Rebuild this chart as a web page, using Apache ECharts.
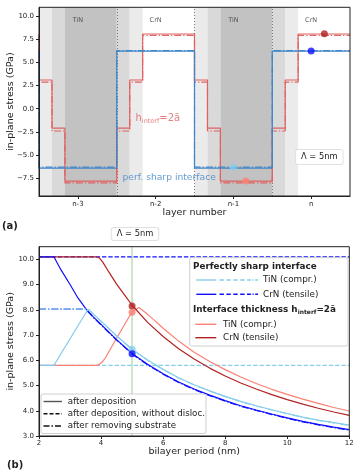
<!DOCTYPE html>
<html>
<head>
  <meta charset="utf-8">
  <title>In-plane stress in TiN/CrN superlattice</title>
  <script src="https://cdn.jsdelivr.net/npm/echarts@6/dist/echarts.min.js"></script>
  <style>
    html, body { margin: 0; padding: 0; background: #fff; }
    #graph { width: 359px; height: 470px; }
  </style>
</head>
<body>
  <div id="graph"></div>

  <script>
    var FONT = 'DejaVu Sans';

    // ---------- panel (a): stress across the layers ----------
    var layerTicks = [0, 1, 2, 3];
    var layerNames = ['n-3', 'n-2', 'n-1', 'n'];
    var materialNames = ['TiN', 'CrN', 'TiN', 'CrN'];
    var stressTicksA = [-7.5, -5, -2.5, 0, 2.5, 5, 7.5, 10];

    // monolayer slabs (layer units) and how much TiN each one holds (0..3)
    var slabEdges = [-0.5, -0.333, -0.167, 0.5, 0.667, 0.833, 1.5, 1.667, 1.833, 2.5, 2.667, 2.833, 3.5];
    var slabShade = [1, 2, 3, 2, 1, 0, 1, 2, 3, 2, 1, 0];
    var interfaceEdges = [0.5, 1.5, 2.5];

    // interface thickness 2a
    var gradedDep = [3.1, -2.1, -7.8, -2.1, 3.1, 8.06, 3.1, -2.1, -7.8, -2.1, 3.1, 8.06];
    var gradedRem = [2.88, -2.4, -8.0, -2.4, 2.88, 7.92, 2.88, -2.4, -8.0, -2.4, 2.88, 7.92];
    // perfectly sharp interface, one value per layer
    var sharpEdges = [-0.5, 0.5, 1.5, 2.5, 3.5];
    var sharpDep = [-6.4, 6.22, -6.4, 6.22];
    var sharpRem = [-6.3, 6.27, -6.3, 6.27];

    // highlighted points (same states as the Λ = 5nm markers below)
    var dotAx = [3.17, 3.0, 2.0, 2.16];
    var dotAy = [8.1, 6.22, -6.32, -7.8];

    // ---------- panel (b): stress vs bilayer period ----------
    var periodTicks = [2, 4, 6, 8, 10, 12];
    var stressTicksB = [3, 4, 5, 6, 7, 8, 9, 10];
    var markedPeriod = 5;

    var crnSharpDep = [[2, 10.1], [2.48, 10.1], [2.7, 9.6], [3.0, 9.0], [3.25, 8.48], [3.5, 8.06], [3.75, 7.72],
      [4.0, 7.42], [4.5, 6.82], [5.0, 6.27], [5.5, 5.84], [6.0, 5.47], [6.5, 5.14], [7.0, 4.86], [7.5, 4.62],
      [8.0, 4.4], [8.5, 4.2], [9.0, 4.03], [9.5, 3.87], [10.0, 3.72], [10.5, 3.58], [11.0, 3.46], [11.5, 3.35], [12.0, 3.25]];
    var crnSharpRem = [[2, 8.03], [3.5, 8.03], [3.75, 7.7], [4.0, 7.4], [4.5, 6.8], [5.0, 6.25], [5.5, 5.82],
      [6.0, 5.45], [6.5, 5.12], [7.0, 4.84], [7.5, 4.6], [8.0, 4.38], [8.5, 4.18], [9.0, 4.01], [9.5, 3.85],
      [10.0, 3.7], [10.5, 3.56], [11.0, 3.44], [11.5, 3.33], [12.0, 3.23]];
    var crnSharpFree = [[2, 10.1], [12, 10.1]];

    var tinSharpDep = [[2, 5.8], [2.48, 5.8], [3.58, 8.02], [3.75, 7.84], [4.0, 7.55], [4.5, 6.97], [5.0, 6.44],
      [5.5, 6.01], [6.0, 5.64], [6.5, 5.31], [7.0, 5.03], [7.5, 4.79], [8.0, 4.57], [8.5, 4.37], [9.0, 4.2],
      [9.5, 4.04], [10.0, 3.89], [10.5, 3.75], [11.0, 3.63], [11.5, 3.53], [12.0, 3.43]];
    var tinSharpRem = [[2, 8.03], [3.58, 8.03], [3.75, 7.83], [4.0, 7.54], [4.5, 6.96], [5.0, 6.43], [5.5, 6.0],
      [6.0, 5.63], [6.5, 5.3], [7.0, 5.02], [7.5, 4.78], [8.0, 4.56], [8.5, 4.36], [9.0, 4.19], [9.5, 4.03],
      [10.0, 3.88], [10.5, 3.74], [11.0, 3.62], [11.5, 3.52], [12.0, 3.42]];
    var tinSharpFree = [[2, 5.8], [12, 5.8]];

    var tinGraded = [[2, 5.8], [3.85, 5.8], [3.95, 5.84], [4.05, 5.95], [4.15, 6.12], [4.5, 6.87], [4.75, 7.4],
      [5.0, 7.92], [5.22, 8.09], [5.5, 7.82], [5.75, 7.55], [6.0, 7.27], [6.5, 6.76], [7.0, 6.32], [7.5, 5.95],
      [8.0, 5.63], [8.5, 5.34], [9.0, 5.08], [9.5, 4.85], [10.0, 4.65], [10.5, 4.46], [11.0, 4.29], [11.5, 4.13], [12.0, 3.99]];
    var crnGraded = [[2, 10.1], [3.85, 10.1], [3.95, 10.05], [4.05, 9.9], [4.25, 9.5], [4.5, 9.02], [4.75, 8.6],
      [5.0, 8.18], [5.5, 7.5], [6.0, 6.94], [6.5, 6.46], [7.0, 6.05], [7.5, 5.69], [8.0, 5.38], [8.5, 5.1],
      [9.0, 4.86], [9.5, 4.64], [10.0, 4.44], [10.5, 4.26], [11.0, 4.1], [11.5, 3.95], [12.0, 3.82]];

    // stress at Λ = 5nm: CrN graded, TiN graded, TiN sharp, CrN sharp
    var dotsAt5 = [8.15, 7.9, 6.44, 6.26];

    // ---------- styles ----------
    var RED_A = '#e06262', BLUE_A = '#3f86c8';
    var SKY = '#87ceeb', BLUE = '#1010ff', SALMON = '#fa8072', FIREBRICK = '#b22222';
    var SHADES = [null, '#ebebeb', '#d9d9d9', '#c2c2c2'];
    var DOT_COLORS = [FIREBRICK, BLUE, SKY, SALMON];
    var DASH = [4.4, 1.9];
    var DASHDOT = [7, 2, 1.3, 2];

    var myChart = echarts.init(document.getElementById('graph'), null, { renderer: 'canvas' });

    function steps(edges, vals) {
      // periodic profile: starts with the vertical jump from the previous slab
      var pts = [[edges[0], vals[vals.length - 1]]];
      for (var i = 0; i < vals.length; i++) {
        pts.push([edges[i], vals[i]], [edges[i + 1], vals[i]]);
      }
      return pts;
    }

    function line(idx, data, color, type, z) {
      return {
        type: 'line', xAxisIndex: idx, yAxisIndex: idx, data: data,
        symbol: 'none', silent: true, z: z || 2,
        lineStyle: { color: color, width: 1.2, type: type || 'solid' }
      };
    }

    function fmtStress(v) {
      return (v < 0 ? '\u2212' : '') + Math.abs(v).toFixed(1);
    }

    // shaded slabs + dotted layer boundaries in (a)
    var bands = [];
    for (var i = 0; i < slabShade.length; i++) {
      if (!slabShade[i]) continue;
      bands.push([{ xAxis: slabEdges[i], itemStyle: { color: SHADES[slabShade[i]] } }, { xAxis: slabEdges[i + 1] }]);
    }

    var seriesA = [
      {
        type: 'line', xAxisIndex: 0, yAxisIndex: 0, data: [], silent: true,
        markArea: { silent: true, z: 1, data: bands },
        markLine: {
          silent: true, z: 1, symbol: ['none', 'none'], label: { show: false },
          lineStyle: { color: '#777', type: [1, 2], width: 1 },
          data: interfaceEdges.map(function (x) { return { xAxis: x }; })
        }
      },
      line(0, steps(slabEdges, gradedDep), RED_A),
      line(0, steps(slabEdges, gradedRem), RED_A, DASHDOT),
      line(0, steps(sharpEdges, sharpDep), BLUE_A),
      line(0, steps(sharpEdges, sharpRem), BLUE_A, DASHDOT),
      {
        type: 'scatter', xAxisIndex: 0, yAxisIndex: 0, symbolSize: 7, z: 4, silent: true,
        data: dotAx.map(function (x, k) { return { value: [x, dotAy[k]], itemStyle: { color: DOT_COLORS[k] } }; })
      },
      {
        // layer material names
        type: 'scatter', xAxisIndex: 0, yAxisIndex: 0, symbolSize: 1, silent: true, z: 4,
        itemStyle: { color: 'rgba(0,0,0,0)' },
        label: { show: true, position: 'inside', fontFamily: FONT, fontSize: 6.5, color: '#333',
          formatter: function (p) { return materialNames[p.dataIndex]; } },
        data: layerTicks.map(function (x) { return [x, 9.57]; })
      },
      {
        type: 'scatter', xAxisIndex: 0, yAxisIndex: 0, symbolSize: 1, silent: true, z: 4,
        itemStyle: { color: 'rgba(0,0,0,0)' },
        label: {
          show: true, position: 'right', distance: 0, fontFamily: FONT,
          formatter: function (p) { return p.dataIndex === 0 ? '{m|h}{s|interf}{m|=2\u0101}' : '{b|perf. sharp interface}'; },
          rich: {
            m: { fontFamily: FONT, fontSize: 10, color: RED_A, lineHeight: 13 },
            s: { fontFamily: FONT, fontSize: 6.5, color: RED_A, lineHeight: 7, verticalAlign: 'bottom' },
            b: { fontFamily: FONT, fontSize: 9.2, color: BLUE_A, lineHeight: 12 }
          }
        },
        data: [[0.735, -1.0], [0.567, -7.45]]
      }
    ];

    var seriesB = [
      {
        type: 'line', xAxisIndex: 1, yAxisIndex: 1, data: [], silent: true,
        markLine: {
          silent: true, z: 1, symbol: ['none', 'none'], label: { show: false },
          lineStyle: { color: '#b9e2b1', type: 'solid', width: 1.5 },
          data: [{ xAxis: markedPeriod }]
        }
      },
      line(1, tinSharpFree, SKY, DASH),
      line(1, crnSharpFree, BLUE, DASH),
      line(1, tinGraded, SALMON),
      line(1, crnGraded, FIREBRICK),
      line(1, crnSharpDep, BLUE),
      line(1, crnSharpRem, BLUE, DASHDOT),
      line(1, tinSharpDep, SKY),
      line(1, tinSharpRem, SKY, DASHDOT),
      {
        type: 'scatter', xAxisIndex: 1, yAxisIndex: 1, symbolSize: 7, z: 4, silent: true,
        data: dotsAt5.map(function (y, k) {
          return { value: [markedPeriod, y], itemStyle: { color: [FIREBRICK, SALMON, SKY, BLUE][k] } };
        })
      }
    ];

    // ---------- overlays: legends, annotation boxes, panel letters ----------
    function txt(x, y, text, size, opts) {
      opts = opts || {};
      return {
        type: 'text', z: 100, silent: true,
        style: {
          x: x, y: y, text: text, fontFamily: FONT, fontSize: size,
          fontWeight: opts.bold ? 'bold' : 'normal', fill: opts.color || '#222',
          align: opts.align || 'left', verticalAlign: 'middle', rich: opts.rich,
          backgroundColor: opts.bg, borderColor: opts.border, borderWidth: opts.border ? 1 : 0,
          borderRadius: opts.border ? 2 : 0, padding: opts.padding
        }
      };
    }
    function seg(x1, x2, y, color, dash) {
      return {
        type: 'line', z: 100, silent: true,
        shape: { x1: x1, y1: y, x2: x2, y2: y },
        style: { stroke: color, lineWidth: 1.4, lineDash: dash || null }
      };
    }
    function box(x, y, w, h) {
      return {
        type: 'rect', z: 99, silent: true,
        shape: { x: x, y: y, width: w, height: h, r: 2 },
        style: { fill: 'rgba(255,255,255,0.85)', stroke: '#d0d0d0', lineWidth: 1 }
      };
    }

    var boldRich = {
      b: { fontFamily: FONT, fontSize: 8.8, fontWeight: 'bold', color: '#111', lineHeight: 12 },
      s: { fontFamily: FONT, fontSize: 6, fontWeight: 'bold', color: '#111', lineHeight: 6, verticalAlign: 'bottom' }
    };

    var graphics = [
      txt(2, 226.5, '(a)', 10, { bold: true }),
      txt(7, 465, '(b)', 10, { bold: true }),
      txt(319.3, 157, '\u039b = 5nm', 8.3, { align: 'center', bg: '#fff', border: '#e0e0e0', padding: [3, 5, 3, 5] }),
      txt(135, 234, '\u039b = 5nm', 8.3, { align: 'center', bg: '#fff', border: '#e0e0e0', padding: [2, 5, 2, 5] }),

      // line-style legend
      box(41, 394, 165, 39.5),
      seg(43.5, 62, 401.5, '#555'),
      txt(67.7, 401.5, 'after deposition', 8.7),
      seg(43.5, 62, 413.8, '#111', [4, 2]),
      txt(67.7, 413.8, 'after deposition, without disloc.', 8.7),
      seg(43.5, 62, 426, '#111', [6, 2, 1.5, 2]),
      txt(67.7, 426, 'after removing substrate', 8.7),

      // material legend
      box(189.7, 257.7, 158.3, 88.3),
      txt(193, 266.7, 'Perfectly sharp interface', 8.8, { bold: true }),
      seg(196.3, 216.3, 280, SKY), seg(219.5, 246, 280, SKY, [4.4, 2.5]), seg(247, 258, 280, SKY, [4, 1.5, 1.2, 1.5]),
      txt(263, 280, 'TiN (compr.)', 8.8),
      seg(196.3, 216.3, 294.3, BLUE), seg(219.5, 246, 294.3, BLUE, [4.4, 2.5]), seg(247, 258, 294.3, BLUE, [4, 1.5, 1.2, 1.5]),
      txt(263, 294.3, 'CrN (tensile)', 8.8),
      txt(193, 309.3, '{b|Interface thickness h}{s|interf}{b|=2\u0101}', 8.8, { rich: boldRich }),
      seg(195.3, 216.3, 324.3, SALMON),
      txt(223, 324.3, 'TiN (compr.)', 8.8),
      seg(195.3, 216.3, 337.7, FIREBRICK),
      txt(223, 337.7, 'CrN (tensile)', 8.8)
    ];

    function baseAxis(extra) {
      var ax = {
        type: 'value', z: 10,
        nameLocation: 'middle', nameMoveOverlap: false,
        nameTextStyle: { fontFamily: FONT, fontSize: 9.5, color: '#222' },
        axisLine: { show: true, onZero: false, lineStyle: { color: '#222', width: 1 } },
        axisTick: { show: true, length: 3, lineStyle: { color: '#222' } },
        axisLabel: { fontFamily: FONT, fontSize: 7, color: '#222', margin: 5 },
        splitLine: { show: false }
      };
      for (var k in extra) ax[k] = extra[k];
      return ax;
    }

    var option = {
      animation: false,
      backgroundColor: '#fff',
      grid: [
        { left: 39, top: 7.3, width: 311, height: 188.7, show: true, borderColor: '#222', borderWidth: 1,
          backgroundColor: 'rgba(0,0,0,0)', z: 10, containLabel: false, outerBoundsMode: 'none' },
        { left: 39, top: 246.7, width: 310.3, height: 189.3, show: true, borderColor: '#222', borderWidth: 1,
          backgroundColor: 'rgba(0,0,0,0)', z: 10, containLabel: false, outerBoundsMode: 'none' }
      ],
      xAxis: [
        baseAxis({
          gridIndex: 0, min: -0.5, max: 3.5, name: 'layer number', nameGap: 12,
          axisTick: { show: true, length: 3, customValues: layerTicks, lineStyle: { color: '#222' } },
          axisLabel: { customValues: layerTicks, fontFamily: FONT, fontSize: 7, color: '#222', margin: 5,
            formatter: function (v) { return layerNames[layerTicks.indexOf(v)]; } }
        }),
        baseAxis({
          gridIndex: 1, min: 2, max: 12, name: 'bilayer period (nm)', nameGap: 11,
          axisTick: { show: true, length: 3, customValues: periodTicks, lineStyle: { color: '#222' } },
          axisLabel: { customValues: periodTicks, fontFamily: FONT, fontSize: 7, color: '#222', margin: 4,
            formatter: function (v) { return String(v); } }
        })
      ],
      yAxis: [
        baseAxis({
          gridIndex: 0, min: -9.41, max: 10.94, name: 'in-plane stress (GPa)', nameGap: 23,
          axisTick: { show: true, length: 3, customValues: stressTicksA, lineStyle: { color: '#222' } },
          axisLabel: { customValues: stressTicksA, fontFamily: FONT, fontSize: 7, color: '#222', margin: 5,
            formatter: fmtStress }
        }),
        baseAxis({
          gridIndex: 1, min: 3, max: 10.5, name: 'in-plane stress (GPa)', nameGap: 23,
          axisTick: { show: true, length: 3, customValues: stressTicksB, lineStyle: { color: '#222' } },
          axisLabel: { customValues: stressTicksB, fontFamily: FONT, fontSize: 7, color: '#222', margin: 5,
            formatter: fmtStress }
        })
      ],
      graphic: graphics,
      series: seriesA.concat(seriesB)
    };

    myChart.setOption(option);
  </script>
</body>
</html>
